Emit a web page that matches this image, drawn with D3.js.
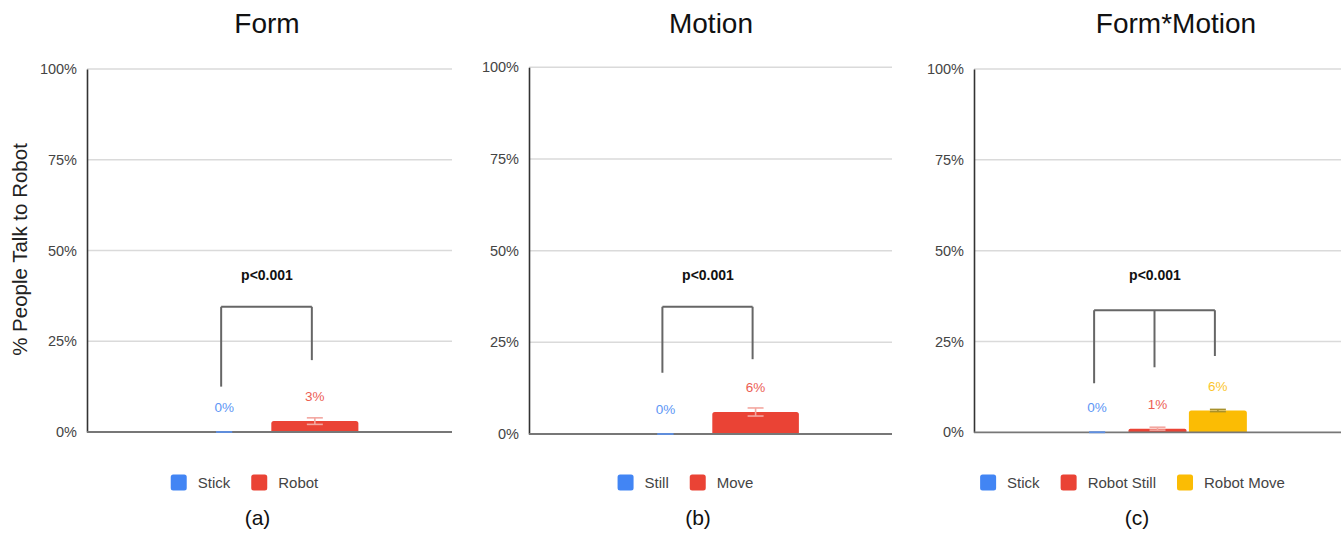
<!DOCTYPE html>
<html>
<head>
<meta charset="utf-8">
<script src="https://cdn.jsdelivr.net/npm/d3@7"></script>
<style>
  html, body { margin: 0; padding: 0; background: #fff; }
  svg { display: block; }
  text { font-family: "Liberation Sans", Arial, sans-serif; }
</style>
</head>
<body>
<svg id="chart" width="1341" height="533"></svg>
<script>
// ---- data -------------------------------------------------------------
const panelTitles = ["Form", "Motion", "Form*Motion"];
const panelTags = ["(a)", "(b)", "(c)"];

const formCategories = ["Stick", "Robot"];
const formValues = [0, 3];
const formErrors = [0, 0.9];

const motionCategories = ["Still", "Move"];
const motionValues = [0, 6];
const motionErrors = [0, 1.1];

const interactionCategories = ["Stick", "Robot Still", "Robot Move"];
const interactionValues = [0, 1, 6];
const interactionErrors = [0, 0.4, 0.3];

const yTicks = [0, 25, 50, 75, 100];
const yTickLabels = ["0%", "25%", "50%", "75%", "100%"];
const yAxisTitle = "% People Talk to Robot";

// significance brackets (in % units): bar top and leg ends per category
const pLabel = "p<0.001";
const formBracket = { top: 34.5, legs: [12.5, 19.8] };
const motionBracket = { top: 34.7, legs: [16.7, 20.4] };
const interactionBracket = { top: 33.6, legs: [13.5, 17.9, 21.0] };

// ---- styling ----------------------------------------------------------
const seriesColors = ["#4285F4", "#EA4335", "#FBBC04"];
const errorColors = ["#5f8fe0", "#f3a7a0", "#a8912c"];

const panels = [
  { cats: formCategories, vals: formValues, errs: formErrors, bracket: formBracket,
    left: 87, right: 452, top: 69, bottom: 432, titleX: 267, tagX: 257.5 },
  { cats: motionCategories, vals: motionValues, errs: motionErrors, bracket: motionBracket,
    left: 529, right: 892, top: 67.3, bottom: 434, titleX: 711, tagX: 698 },
  { cats: interactionCategories, vals: interactionValues, errs: interactionErrors, bracket: interactionBracket,
    left: 974, right: 1341, top: 69, bottom: 432.3, titleX: 1176, tagX: 1137 }
];

const svg = d3.select("#chart");

panels.forEach((p, i) => {
  const g = svg.append("g");
  const y = d3.scaleLinear().domain([0, 100]).range([p.bottom, p.top]);
  const plotW = p.right - p.left;
  const mid = (p.left + p.right) / 2;
  const groupW = plotW * 0.487;
  const x = d3.scaleBand().domain(p.cats)
    .range([mid - groupW / 2, mid + groupW / 2])
    .paddingInner(0.04).paddingOuter(0);

  // title
  g.append("text")
    .attr("x", p.titleX).attr("y", 33)
    .attr("text-anchor", "middle")
    .attr("font-size", 28).attr("fill", "#111")
    .text(panelTitles[i]);

  // gridlines
  g.selectAll("line.grid").data(yTicks.filter(t => t > 0)).join("line")
    .attr("class", "grid")
    .attr("x1", p.left).attr("x2", p.right)
    .attr("y1", d => y(d)).attr("y2", d => y(d))
    .attr("stroke", "#dadada").attr("stroke-width", 1.5);

  // y axis via d3.axisLeft, restyled
  const axis = d3.axisLeft(y).tickValues(yTicks)
    .tickFormat((d, k) => yTickLabels[k]).tickSize(0).tickPadding(10);
  const ag = g.append("g").attr("transform", `translate(${p.left},0)`).call(axis);
  ag.select(".domain").attr("stroke", "#333").attr("stroke-width", 1.6);
  ag.selectAll("text").attr("font-size", 14.5).attr("fill", "#444")
    .attr("font-family", "'Liberation Sans', Arial, sans-serif");

  // bars
  const rows = p.cats.map((c, k) => ({ c, v: p.vals[k], e: p.errs[k], k }));
  g.selectAll("path.bar").data(rows.filter(d => d.v > 0)).join("path")
    .attr("class", "bar")
    .attr("fill", d => seriesColors[d.k])
    .attr("d", d => {
      const x0 = x(d.c), w = x.bandwidth(), y0 = y(d.v), h = p.bottom - y0;
      const r = Math.min(2.5, h / 2);
      return `M${x0},${p.bottom}V${y0 + r}Q${x0},${y0} ${x0 + r},${y0}H${x0 + w - r}Q${x0 + w},${y0} ${x0 + w},${y0 + r}V${p.bottom}Z`;
    });

  // baseline
  g.append("line")
    .attr("x1", p.left).attr("x2", p.right)
    .attr("y1", y(0)).attr("y2", y(0))
    .attr("stroke", "#777").attr("stroke-width", 1.8);

  // error bars
  const cap = 8;
  rows.forEach(d => {
    const cx = x(d.c) + x.bandwidth() / 2;
    const hi = y(d.v + d.e), lo = y(Math.max(0, d.v - d.e));
    const col = errorColors[d.k];
    const eg = g.append("g").attr("stroke", col).attr("stroke-width", 1.6);
    eg.append("line").attr("x1", cx).attr("x2", cx).attr("y1", hi).attr("y2", lo);
    eg.append("line").attr("x1", cx - cap).attr("x2", cx + cap).attr("y1", hi).attr("y2", hi);
    eg.append("line").attr("x1", cx - cap).attr("x2", cx + cap).attr("y1", lo).attr("y2", lo);
  });

  // value labels
  g.selectAll("text.val").data(rows).join("text")
    .attr("class", "val")
    .attr("x", d => x(d.c) + x.bandwidth() / 2)
    .attr("y", d => y(d.v) - 20)
    .attr("text-anchor", "middle")
    .attr("font-size", 13.5)
    .attr("fill", d => seriesColors[d.k])
    .attr("opacity", 0.85)
    .text(d => d3.format(".0f")(d.v) + "%");

  // significance bracket
  const legX = p.cats.map(c => x(c) + x.bandwidth() / 2 - 3);
  const bg = g.append("g").attr("stroke", "#666").attr("stroke-width", 2).attr("fill", "none");
  bg.append("line")
    .attr("x1", legX[0]).attr("x2", legX[legX.length - 1])
    .attr("y1", y(p.bracket.top)).attr("y2", y(p.bracket.top));
  p.bracket.legs.forEach((v, k) => {
    bg.append("line")
      .attr("x1", legX[k]).attr("x2", legX[k])
      .attr("y1", y(p.bracket.top)).attr("y2", y(v));
  });
  g.append("text")
    .attr("x", (legX[0] + legX[legX.length - 1]) / 2 + 0.5)
    .attr("y", 280)
    .attr("text-anchor", "middle")
    .attr("font-size", 14).attr("font-weight", "bold").attr("fill", "#111")
    .text(pLabel);

  // legend, centred under the chart area
  const lg = g.append("g");
  let cursor = 0;
  const items = [];
  p.cats.forEach((c, k) => {
    const it = lg.append("g");
    it.append("rect")
      .attr("x", 0).attr("y", -12.5).attr("width", 16).attr("height", 16)
      .attr("rx", 2.5).attr("fill", seriesColors[k]);
    const t = it.append("text")
      .attr("x", 27).attr("y", 0.5)
      .attr("font-size", 15).attr("fill", "#444")
      .text(c);
    const w = 27 + t.node().getComputedTextLength();
    it.attr("transform", `translate(${cursor},0)`);
    items.push(it);
    cursor += w + 21;
  });
  const totalW = cursor - 21;
  lg.attr("transform", `translate(${mid - 25 - totalW / 2},487)`);

  // panel tag
  g.append("text")
    .attr("x", p.tagX).attr("y", 525)
    .attr("text-anchor", "middle")
    .attr("font-size", 21).attr("fill", "#111")
    .attr("font-family", "'DejaVu Sans', sans-serif")
    .text(panelTags[i]);

  // y axis title (first panel only)
  if (i === 0) {
    g.append("text")
      .attr("transform", `translate(27,${249.5}) rotate(-90)`)
      .attr("text-anchor", "middle")
      .attr("font-size", 20.5).attr("fill", "#222")
      .text(yAxisTitle);
  }
});
</script>
</body>
</html>
